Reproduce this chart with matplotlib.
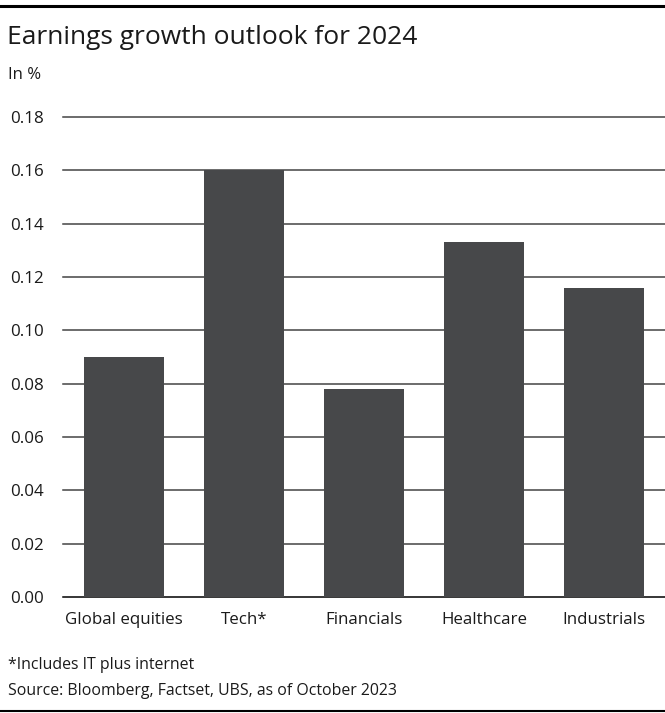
import matplotlib.pyplot as plt
from matplotlib.lines import Line2D

plt.rcParams['font.family'] = ['Open Sans', 'DejaVu Sans']

categories = ['Global equities', 'Tech*', 'Financials', 'Healthcare', 'Industrials']
growth = [0.090, 0.160, 0.078, 0.133, 0.116]
yticks = [0.00, 0.02, 0.04, 0.06, 0.08, 0.10, 0.12, 0.14, 0.16, 0.18]

bar_color = '#47484a'
text_color = '#1a1a1a'

fig = plt.figure(figsize=(6.65, 7.13), dpi=100)
ax = fig.add_axes([63 / 665, 116 / 713, 602 / 665, 480 / 713])

# gridlines first so bars sit on top
for t in yticks:
    ax.axhline(t, color='#000000' if t == 0 else '#444444',
               lw=1.1, zorder=1, clip_on=False)

ax.bar(range(len(categories)), growth, width=0.667, color=bar_color, zorder=2)

ax.set_xlim(-0.508, 4.508)
ax.set_ylim(0, 0.18)
ax.set_yticks(yticks)
ax.set_yticklabels([f'{t:.2f}' for t in yticks])
ax.set_xticks(range(len(categories)))
ax.set_xticklabels(categories)
ax.tick_params(axis='both', length=0, labelsize=12.2, colors=text_color)
ax.tick_params(axis='y', pad=14)
ax.tick_params(axis='x', pad=11)
for s in ax.spines.values():
    s.set_visible(False)

fig.text(7 / 665, 1 - 38 / 713, 'Earnings growth outlook for 2024',
         fontsize=19, color=text_color, va='center', ha='left')
fig.text(8 / 665, 1 - 75 / 713, 'In %', fontsize=12, color=text_color,
         va='center', ha='left')
fig.text(8 / 665, 1 - 665 / 713, '*Includes IT plus internet', fontsize=11.4,
         color=text_color, va='center', ha='left')
fig.text(8 / 665, 1 - 691 / 713, 'Source: Bloomberg, Factset, UBS, as of October 2023',
         fontsize=11.4, color=text_color, va='center', ha='left')

# rules at top and bottom of the figure
fig.add_artist(Line2D([0, 1], [1 - 6 / 713, 1 - 6 / 713], color='black', lw=2.2,
                      transform=fig.transFigure))
fig.add_artist(Line2D([0, 1], [1 - 711 / 713, 1 - 711 / 713], color='black', lw=1.5,
                      transform=fig.transFigure))

fig.savefig('out.png', dpi=100)
